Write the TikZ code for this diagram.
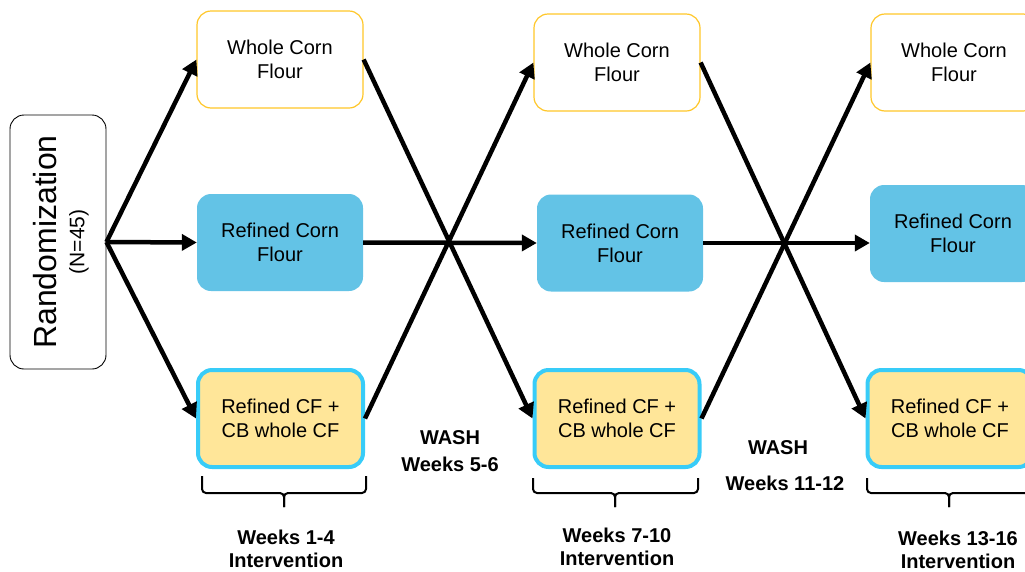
\documentclass[tikz,border=0pt]{standalone}
\usepackage{fontspec}
\setmainfont{Liberation Sans}
\usetikzlibrary{arrows.meta}
\definecolor{goldline}{HTML}{FFC729}
\definecolor{flourblue}{HTML}{63C3E6}
\definecolor{blendfill}{HTML}{FFE699}
\definecolor{blendline}{HTML}{38CCF8}
\begin{document}
\begin{tikzpicture}[x=1pt,y=-1pt,
  box/.style={rounded corners=14pt, minimum width=166pt, minimum height=97pt,
    align=center, font=\fontsize{20}{24}\selectfont, inner sep=0pt},
  whole/.style={box, draw=goldline, line width=1.2pt, fill=white},
  refined/.style={box, fill=flourblue},
  blend/.style={box, draw=blendline, line width=4pt, fill=blendfill, minimum width=165pt},
  flow/.style={line width=4.5pt, -{Triangle[length=15pt,width=16pt]}},
  bracket/.style={line width=2pt, rounded corners=4pt},
  period/.style={font=\bfseries\fontsize{20}{23}\selectfont, align=center}]
\useasboundingbox (0,0) rectangle (1025,571);
\clip (0,0) rectangle (1025,571);

% randomization block
\node[draw, rounded corners=14pt, line width=0.9pt, minimum width=96pt,
  minimum height=254pt] (rand) at (58,242) {};
\node[rotate=90, font=\fontsize{32}{36}\selectfont] (randtxt) at (45,242) {Randomization};
\node[rotate=90, font=\fontsize{21}{24}\selectfont] (ntxt) at (79,242) {(N=45)};

% period 1
\node[whole]   (t1) at (280,59.5)  {Whole Corn\\Flour};
\node[refined] (m1) at (280,242.5) {Refined Corn\\Flour};
\node[blend]   (b1) at (280.5,418.5) {Refined CF +\\CB whole CF};

% period 2
\node[whole]   (t2) at (617,62.5)  {Whole Corn\\Flour};
\node[refined] (m2) at (620,243)   {Refined Corn\\Flour};
\node[blend]   (b2) at (617,418.5) {Refined CF +\\CB whole CF};

% period 3
\node[whole]   (t3) at (954,62.5)  {Whole Corn\\Flour};
\node[refined] (m3) at (953,233.5) {Refined Corn\\Flour};
\node[blend]   (b3) at (950,418.5) {Refined CF +\\CB whole CF};

% allocation and crossover arrows
\draw[flow] (rand.east) -- (t1.west);
\draw[flow] (rand.east) -- (m1.west);
\draw[flow] (rand.east) -- (b1.west);
\draw[flow] (t1.east) -- (b2.west);
\draw[flow] (b1.east) -- (t2.west);
\draw[flow] (m1.east) -- (m2.west);
\draw[flow] (t2.east) -- (b3.west);
\draw[flow] (b2.east) -- (t3.west);
\draw[flow] (m2.east) -- (m2.east -| m3.west);

% period brackets
\draw[bracket] (202,476) -- (202,493) -- (284,493) -- (284,507);
\draw[bracket] (366,476) -- (366,493) -- (284,493) -- (284,507);
\draw[bracket] (533,478) -- (533,493) -- (615,493) -- (615,507);
\draw[bracket] (698,478) -- (698,493) -- (615,493) -- (615,507);
\draw[bracket] (867,478) -- (867,493) -- (949,493) -- (949,507);
\draw[bracket] (1031,478) -- (1031,493) -- (949,493) -- (949,507);

% labels
\node[period] (p1) at (286,549) {Weeks 1-4\\Intervention};
\node[period] (p2) at (617,547) {Weeks 7-10\\Intervention};
\node[period] (p3) at (958,550) {Weeks 13-16\\Intervention};
\node[period, font=\bfseries\fontsize{20}{27}\selectfont] (wash1) at (450,451) {WASH\\Weeks 5-6};
\node[period] (wash2) at (778,448) {WASH};
\node[period] (wash2w) at (785,483) {Weeks 11-12};
\end{tikzpicture}
\end{document}
